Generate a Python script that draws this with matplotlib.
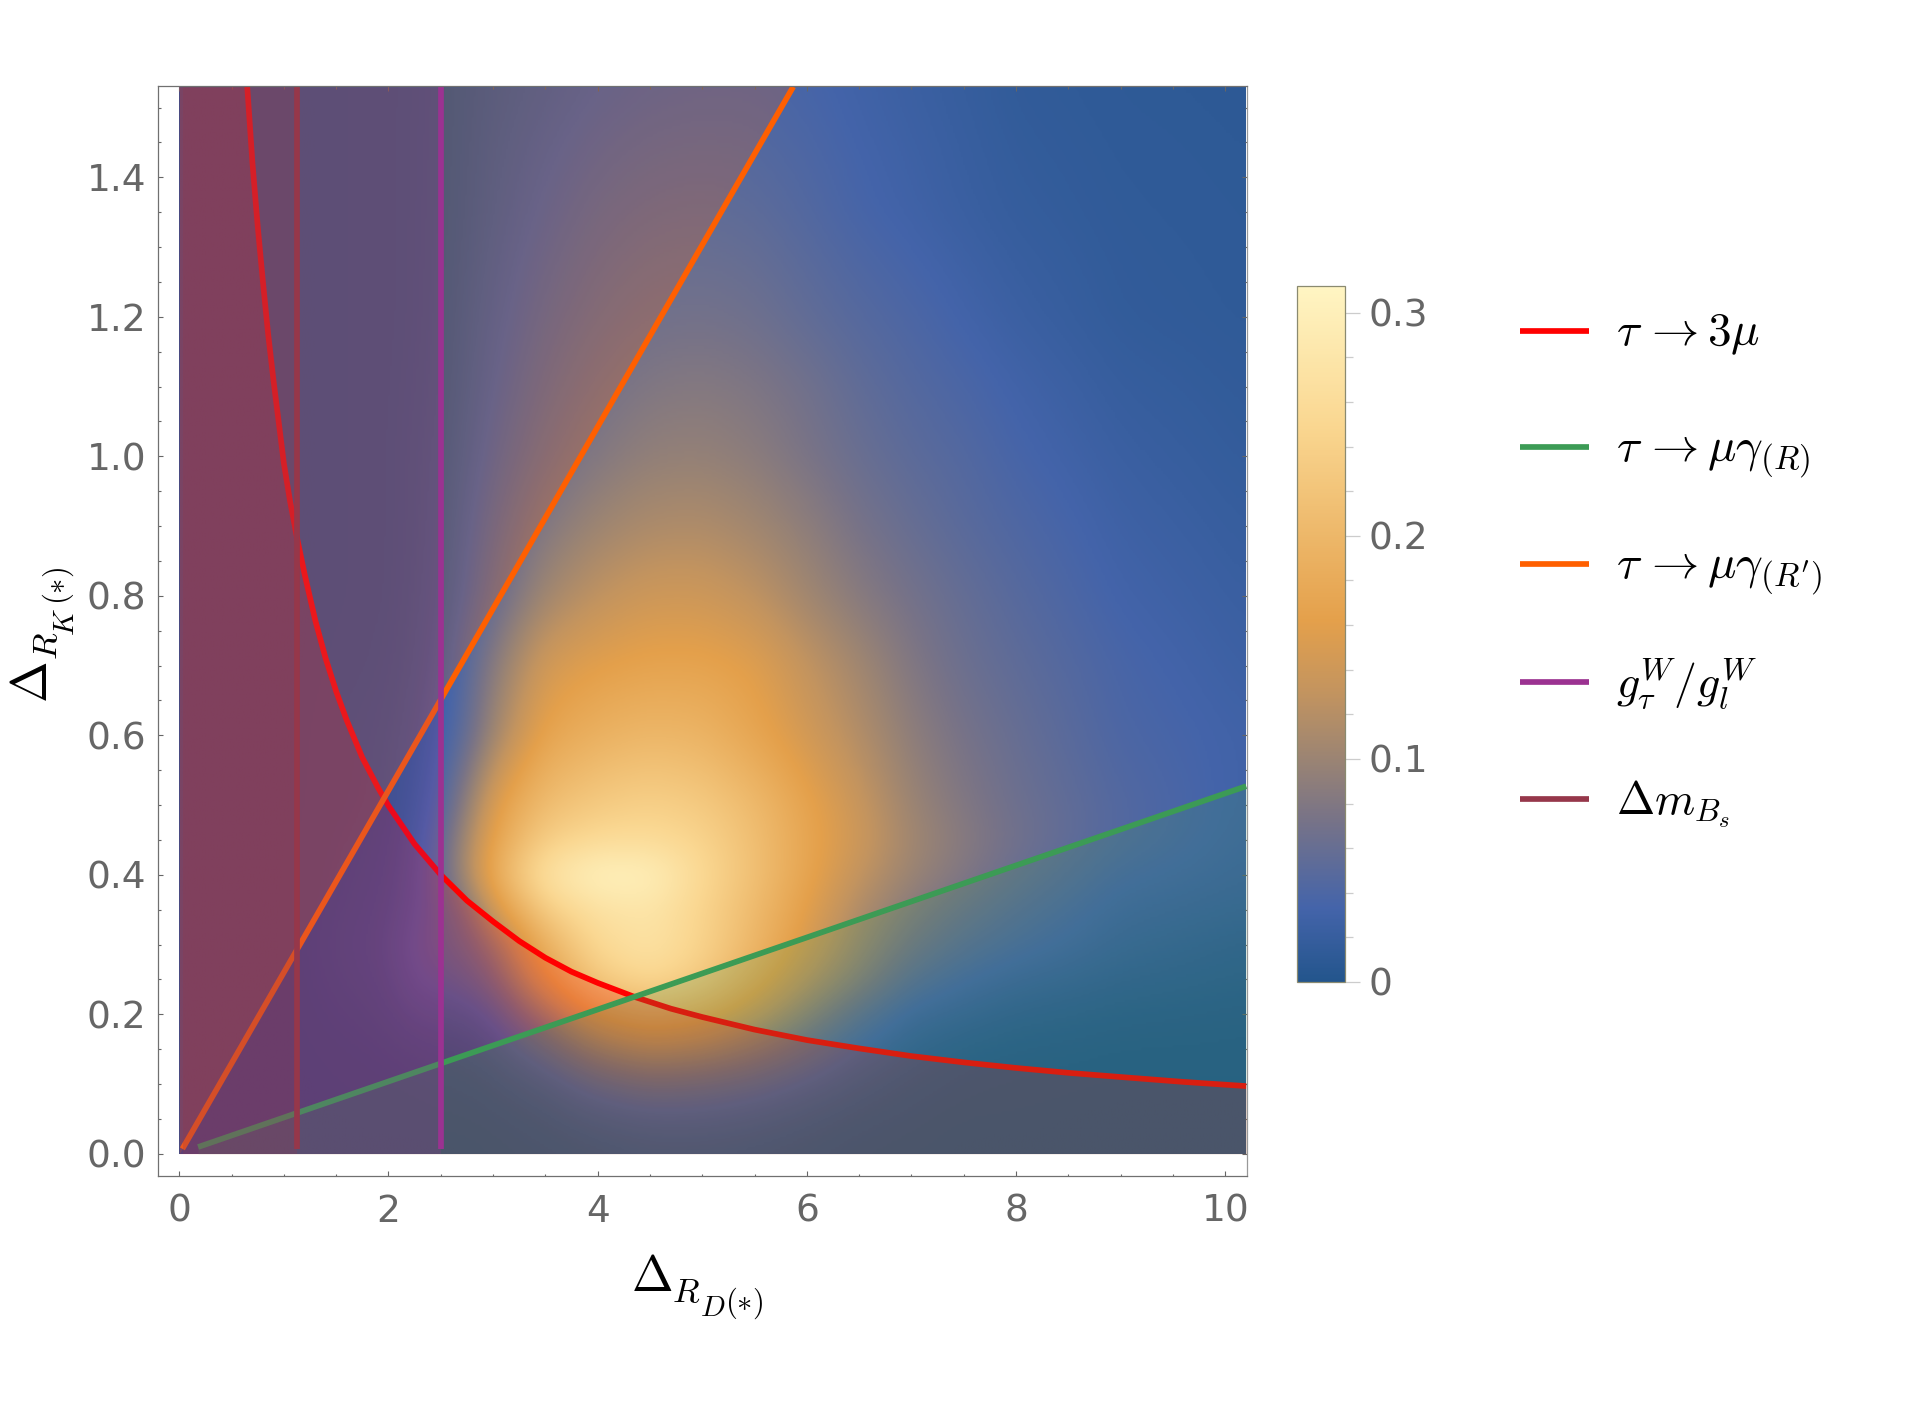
import numpy as np
import matplotlib
matplotlib.use("Agg")
import matplotlib.pyplot as plt
from matplotlib.colors import LinearSegmentedColormap, Normalize
from matplotlib.ticker import MultipleLocator, FixedLocator

plt.rcParams['mathtext.fontset'] = 'cm'
plt.rcParams['font.family'] = 'DejaVu Sans'

W, H = 1923, 1403
GRAY = '#666666'

# density values (rows listed from top to bottom)
x_knots = [0, 1, 2, 2.25, 2.5, 2.75, 3, 3.5, 4, 4.5, 5, 5.5, 6, 6.5, 7, 7.5, 8, 9, 10.2]
y_knots = [1.53, 1.35, 1.2, 1.1, 1.0, 0.9, 0.8, 0.7, 0.6, 0.5, 0.45, 0.4, 0.35, 0.3, 0.25, 0.2, 0.15, 0.1, 0.05, 0.0]
density = [
    [0, 0, .002, .003, .005, .012, .017, .025, .033, .038, .040, .040, .036, .030, .025, .020, .015, .012, .011],
    [0, 0, .002, .003, .006, .014, .022, .036, .048, .054, .056, .053, .045, .036, .030, .024, .019, .014, .012],
    [0, 0, .002, .003, .007, .018, .028, .047, .060, .068, .070, .066, .056, .047, .040, .032, .025, .016, .013],
    [0, 0, .002, .004, .008, .020, .033, .055, .070, .080, .083, .078, .068, .055, .046, .039, .031, .020, .015],
    [0, 0, .002, .005, .010, .024, .040, .065, .082, .093, .095, .088, .075, .062, .052, .045, .036, .024, .017],
    [0, 0, .002, .005, .012, .030, .050, .082, .102, .113, .115, .105, .090, .072, .060, .050, .042, .028, .020],
    [0, 0, .002, .006, .015, .036, .060, .105, .128, .140, .140, .128, .105, .085, .070, .058, .048, .032, .023],
    [0, 0, .003, .008, .020, .050, .085, .145, .160, .168, .168, .158, .130, .105, .080, .064, .054, .037, .026],
    [0, 0, .005, .012, .030, .055, .105, .170, .190, .200, .195, .172, .145, .118, .090, .072, .060, .040, .030],
    [0, 0, .006, .018, .040, .090, .155, .210, .230, .240, .230, .205, .168, .135, .100, .080, .065, .045, .030],
    [0, 0, .008, .022, .050, .110, .168, .235, .255, .258, .245, .212, .172, .140, .105, .085, .068, .045, .028],
    [0, 0, .010, .025, .055, .115, .185, .275, .310, .305, .255, .215, .170, .130, .100, .080, .062, .036, .025],
    [0, 0, .012, .030, .050, .070, .145, .235, .270, .278, .245, .205, .160, .115, .085, .065, .050, .028, .020],
    [0, 0, .015, .040, .050, .060, .090, .190, .255, .275, .245, .200, .150, .105, .072, .052, .040, .022, .012],
    [0, 0, .012, .035, .040, .045, .065, .160, .230, .255, .230, .180, .130, .090, .052, .035, .025, .014, .008],
    [0, 0, .008, .020, .022, .025, .035, .100, .170, .195, .178, .140, .095, .055, .028, .020, .012, .006, .003],
    [0, 0, .004, .008, .010, .012, .018, .050, .100, .125, .115, .090, .060, .032, .015, .007, .004, .002, .002],
    [0, 0, .002, .003, .004, .005, .008, .020, .045, .060, .055, .045, .030, .015, .007, .003, .002, .001, .001],
    [0, 0, .001, .001, .002, .002, .003, .008, .018, .025, .025, .020, .012, .006, .003, .001, .001, 0, 0],
    [0, 0, 0, 0, 0, 0, .001, .003, .006, .010, .010, .008, .005, .002, .001, 0, 0, 0, 0],
]

# curves
red_x = [.65, .70, .75, .80, .85, .90, .95, 1.00, 1.06, 1.13, 1.20, 1.30, 1.40, 1.50, 1.60, 1.75, 1.90, 2.00, 2.25, 2.50,
         2.75, 3.00, 3.25, 3.50, 3.75, 4.00, 4.35, 4.70, 5.00, 5.50, 6.00, 6.50, 7.00, 7.50, 8.00, 8.50, 9.00, 9.60, 10.2]
red_y = [1.53, 1.42, 1.33, 1.25, 1.175, 1.11, 1.05, .99, .935, .88, .83, .765, .71, .663, .622, .568, .525, .499, .444, .40,
         .363, .333, .305, .281, .261, .245, .225, .208, .196, .178, .163, .151, .140, .131, .123, .116, .110, .103, .097]
green_x = [0.18, 10.2]
green_y = [0.0096, 0.527]
orange_x = [0.03, 5.87]
orange_y = [0.007, 1.53]
purple_x = [2.5, 2.5]
dmbs_x = [1.13, 1.13]
vert_y = [0.007, 1.53]

# colour scale
cmap_vals = [0, .033, .073, .10, .13, .162, .20, .25, .312]
cmap_cols = ['#23558c', '#4464aa', '#787387', '#9b8473', '#c3945f', '#e4a04b', '#edb769', '#fad791', '#fff5c3']

legend_labels = [r'$\tau\,\rightarrow3\mu$', r'$\tau\,\rightarrow\mu\gamma_{(R)}$',
                 r"$\tau\,\rightarrow\mu\gamma_{(R')}$", r'$g_{\tau}^{W}/g_{l}^{W}$', r'$\Delta m_{B_s}$']
legend_sizes = [34, 34, 34, 33, 33]
legend_cols = ['#ff0000', '#3c9b55', '#ff5f00', '#9b3291', '#96374a']
legend_ys = [330.5, 447, 564, 682, 799]


def axpx(l, t, r, b):
    return [l / W, 1 - b / H, (r - l) / W, (b - t) / H]


fig = plt.figure(figsize=(W / 100, H / 100), dpi=100, facecolor='white')
ax = fig.add_axes(axpx(157.5, 86, 1246.7, 1175.7))
xmin, xmax, ymin, ymax = -0.208, 10.205, -0.0315, 1.531
ax.set_xlim(xmin, xmax)
ax.set_ylim(ymin, ymax)

vmax = cmap_vals[-1]
cmap = LinearSegmentedColormap.from_list('c', [(v / vmax, c) for v, c in zip(cmap_vals, cmap_cols)], N=512)
norm = Normalize(0, vmax)

# resample the read grid and soften it
Z = np.array(density, float)[::-1]
yk = np.array(y_knots)[::-1]
xf = np.linspace(0, 10.2, 511)
yf = np.linspace(0, 1.53, 401)
A = np.array([np.interp(xf, x_knots, row) for row in Z])
A = np.array([np.interp(yf, yk, A[:, j]) for j in range(A.shape[1])]).T


def blur(arr, sigma, axis):
    r = int(3 * sigma)
    k = np.exp(-0.5 * (np.arange(-r, r + 1) / sigma) ** 2)
    k /= k.sum()
    pad = [(0, 0), (0, 0)]
    pad[axis] = (r, r)
    p = np.pad(arr, pad, mode='edge')
    return np.apply_along_axis(lambda m: np.convolve(m, k, mode='valid'), axis, p)


A = blur(blur(A, 8, 1), 6, 0)

im = ax.imshow(A, origin='lower', extent=[0, 10.2, 0, 1.53], aspect='auto', cmap=cmap, norm=norm,
               interpolation='bilinear', zorder=1)
ax.set_xlim(xmin, xmax)
ax.set_ylim(ymin, ymax)

LW = 4.1
TOP = 1.53
# each constraint: shaded region then its line, later ones cover earlier ones
rx = np.array([0] + red_x)
ry = np.array([TOP] + red_y)
ax.fill_between(rx, 0, ry, color=legend_cols[0], alpha=.2, lw=0, zorder=2)
ax.plot(red_x, red_y, color=legend_cols[0], lw=LW, zorder=2.1, solid_capstyle='butt')
ax.fill_between(green_x, 0, green_y, color=legend_cols[1], alpha=.2, lw=0, zorder=3)
ax.plot(green_x, green_y, color=legend_cols[1], lw=LW, zorder=3.1, solid_capstyle='butt')
ax.fill_between([0, orange_x[0], orange_x[1]], [0, orange_y[0], orange_y[1]], TOP, color=legend_cols[2], alpha=.2, lw=0, zorder=4)
ax.plot(orange_x, orange_y, color=legend_cols[2], lw=LW, zorder=4.1, solid_capstyle='butt')
ax.fill_betweenx([0, TOP], 0, purple_x[0], color=legend_cols[3], alpha=.2, lw=0, zorder=5)
ax.plot(purple_x, vert_y, color=legend_cols[3], lw=LW, zorder=5.1, solid_capstyle='butt')
ax.fill_betweenx([0, TOP], 0.04, dmbs_x[0], color=legend_cols[4], alpha=.25, lw=0, zorder=6)
ax.plot(dmbs_x, vert_y, color=legend_cols[4], lw=LW, zorder=6.1, solid_capstyle='butt')

ax.xaxis.set_major_locator(MultipleLocator(2))
ax.xaxis.set_minor_locator(MultipleLocator(0.5))
ax.yaxis.set_minor_locator(MultipleLocator(0.05))
ax.set_yticks([0, .2, .4, .6, .8, 1.0, 1.2, 1.4])
ax.set_yticklabels(['0.0', '0.2', '0.4', '0.6', '0.8', '1.0', '1.2', '1.4'])
ax.tick_params(which='major', direction='in', length=3.6, width=0.8, color=GRAY, top=True, right=True,
               labelsize=27, labelcolor=GRAY)
ax.tick_params(axis='x', which='major', pad=13)
ax.tick_params(axis='y', which='major', pad=8)
ax.tick_params(which='minor', direction='in', length=1.8, width=0.8, color=GRAY, top=True, right=True)
for s in ax.spines.values():
    s.set_color('#707070')
    s.set_linewidth(0.9)
    s.set_zorder(10)
ax.spines['right'].set_color('#999999')

cax = fig.add_axes(axpx(1297, 286, 1344.6, 982))
cb = fig.colorbar(plt.cm.ScalarMappable(norm=norm, cmap=cmap), cax=cax)
cb.outline.set_edgecolor('#8a8a70')
cb.outline.set_linewidth(0.9)
cax.yaxis.set_major_locator(FixedLocator([0, .1, .2, .3]))
cax.yaxis.set_minor_locator(FixedLocator([.02, .04, .06, .08, .12, .14, .16, .18, .22, .24, .26, .28]))
cax.set_yticklabels(['0', '0.1', '0.2', '0.3'])
cax.tick_params(which='major', direction='out', length=10.5, width=0.9, color='#cccccc',
                labelsize=27, labelcolor=GRAY, pad=6.5)
cax.tick_params(which='minor', direction='out', length=6, width=0.9, color='#cccccc')

lax = fig.add_axes([0, 0, 1, 1], facecolor='none')
lax.set_xlim(0, W)
lax.set_ylim(H, 0)
lax.axis('off')
for lab, col, ly, fs in zip(legend_labels, legend_cols, legend_ys, legend_sizes):
    lax.plot([1520, 1589], [ly, ly], color=col, lw=LW, solid_capstyle='butt')
    lax.text(1616, ly + 15, lab, fontsize=fs, ha='left', va='baseline', color='black')

# axis titles set piecewise: nested subscripts stay larger than mathtext makes them
for txt, px, py, fs in [(r'$\Delta$', 631, 1291, 36), (r'$R$', 672, 1302, 25),
                        (r'$D$', 700, 1316, 21), (r'$(*)$', 725, 1311, 22)]:
    lax.text(px, py, txt, fontsize=fs, ha='left', va='baseline', color='black')
for txt, px, py, fs in [(r'$\Delta$', 47, 703, 36), (r'$R$', 57, 660, 25),
                        (r'$K$', 74, 636, 21), (r'$(*)$', 66, 605, 22)]:
    lax.text(px, py, txt, fontsize=fs, ha='left', va='baseline', rotation=90, rotation_mode='anchor', color='black')

fig.savefig('out.png', dpi=100)
